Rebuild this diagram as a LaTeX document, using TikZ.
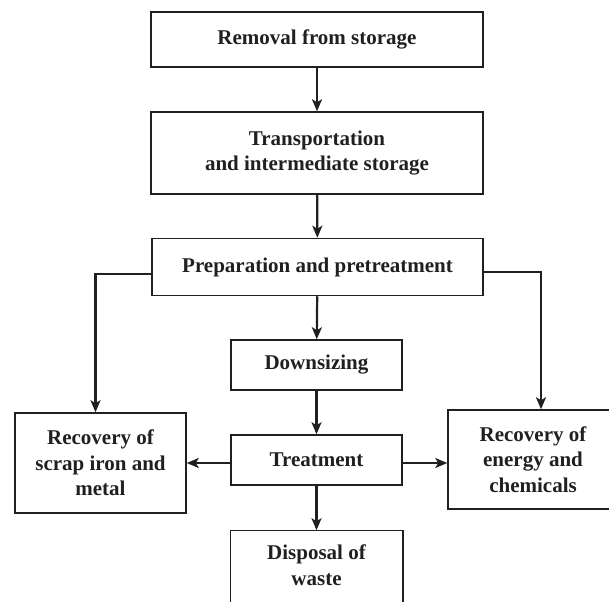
\documentclass[tikz,border=0pt]{standalone}
\usepackage{fontspec}
\setmainfont{Liberation Serif}
\usetikzlibrary{arrows.meta,calc}
\definecolor{ink}{HTML}{231F20}
\begin{document}
\begin{tikzpicture}[x=1pt,y=-1pt,
  box/.style={draw=ink,line width=1.5pt,text=ink,align=center,inner sep=0pt,
    font=\fontsize{21}{25.5}\selectfont\bfseries},
  conn/.style={draw=ink,line width=2.2pt,-{Stealth[length=12pt,width=10pt,inset=3pt]}}]
\useasboundingbox (0,0) rectangle (609,601);
\clip (0,0) rectangle (609,601);
\node[box,minimum width=332pt,minimum height=55pt] (rem) at (317,39.5) {Removal from storage};
\node[box,minimum width=332pt,minimum height=82pt] (trans) at (317,153) {Transportation\\and intermediate storage};
\node[box,minimum width=331pt,minimum height=57pt] (prep) at (317.5,267) {Preparation and pretreatment};
\node[box,minimum width=171pt,minimum height=50pt] (down) at (316.5,365) {Downsizing};
\node[box,minimum width=171pt,minimum height=50pt] (treat) at (316.5,460) {Treatment};
\node[box,draw=none,minimum width=171pt,minimum height=68pt] (disp) at (316.5,565) {Disposal of\\waste};
\draw[ink,line width=1.5pt] ($(disp.south west)+(0pt,-30pt)$) -- (disp.north west) -- (disp.north east) -- ($(disp.south east)+(0pt,-30pt)$);
\node[box,minimum width=171pt,minimum height=100pt] (left) at (100.5,463) {Recovery of\\scrap iron and\\metal};
\node[box,minimum width=170pt,minimum height=99pt] (right) at (533,459.5) {Recovery of\\energy and\\chemicals};
\draw[conn] (rem) -- (trans);
\draw[conn] (trans) -- (prep);
\draw[conn] (prep) -- (down);
\draw[conn] (down) -- (treat);
\draw[conn] (treat) -- (disp);
\draw[conn] ([yshift=-7pt]prep.west) -| ([xshift=-5pt]left.north);
\draw[conn] ([yshift=-5pt]prep.east) -| ([xshift=8pt]right.north);
\draw[conn] ([yshift=-3pt]treat.west) -- ([yshift=-3pt]treat.west -| left.east);
\draw[conn] ([yshift=-3pt]treat.east) -- ([yshift=-3pt]treat.east -| right.west);
\end{tikzpicture}
\end{document}
